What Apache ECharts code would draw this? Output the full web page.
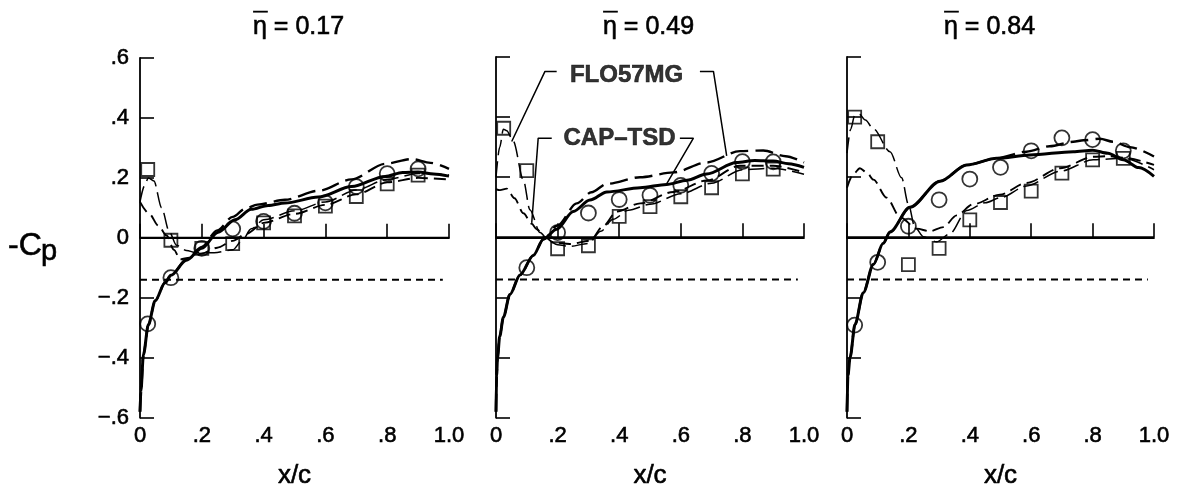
<!DOCTYPE html>
<html><head><meta charset="utf-8">
<script src="https://cdn.jsdelivr.net/npm/echarts@6/dist/echarts.min.js"></script>
<style>html,body{margin:0;padding:0;background:#fff}#c{width:1178px;height:494px}</style>
</head><body><div id="c"></div>
<script>
// ---------- data ----------
const stations = ['0.17', '0.49', '0.84'];
const xTickLabels = ['0', '.2', '.4', '.6', '.8', '1.0'];
const yTickLabels = ['\u2212.6', '\u2212.4', '\u2212.2', '0', '.2', '.4', '.6'];
const expX = [0.025, 0.1, 0.2, 0.3, 0.4, 0.5, 0.6, 0.7, 0.8, 0.9];

// experiment, upper surface (circles) and lower surface (squares)
const upperExp1 = [-0.287, -0.133, -0.035, 0.03, 0.055, 0.082, 0.117, 0.171, 0.214, 0.23];
const lowerExp1 = [0.228, -0.008, -0.035, -0.019, 0.05, 0.073, 0.106, 0.138, 0.18, 0.209];
const upperExp2 = [null, -0.101, 0.016, 0.081, 0.126, 0.14, 0.173, 0.213, 0.252, 0.251];
const lowerExp2 = [0.363, 0.222, -0.038, -0.028, 0.07, 0.102, 0.135, 0.165, 0.211, 0.227];
const upperExp3 = [-0.292, -0.083, 0.037, 0.125, 0.194, 0.233, 0.288, 0.331, 0.325, 0.288];
const lowerExp3 = [0.40, 0.318, -0.091, -0.037, 0.058, 0.116, 0.154, 0.214, 0.258, 0.263];

// computations [x/c, -Cp]
const capUpper1 = [[0,-0.58],[0.003,-0.51],[0.011,-0.39],[0.027,-0.29],[0.049,-0.21],[0.081,-0.15],[0.1,-0.125],[0.15,-0.075],[0.2,-0.035],[0.253,0.019],[0.307,0.06],[0.36,0.095],[0.415,0.108],[0.469,0.116],[0.577,0.136],[0.685,0.171],[0.793,0.205],[0.85,0.218],[0.9,0.22],[0.95,0.213],[1.0,0.206]];
const floUpper1 = [[0,-0.58],[0.003,-0.51],[0.011,-0.39],[0.027,-0.29],[0.049,-0.21],[0.081,-0.15],[0.1,-0.125],[0.15,-0.072],[0.2,-0.03],[0.25,0.025],[0.3,0.07],[0.34,0.097],[0.38,0.111],[0.469,0.127],[0.577,0.157],[0.685,0.195],[0.793,0.247],[0.879,0.263],[0.94,0.25],[1.0,0.23]];
const capLower1 = [[0,0.12],[0.03,0.08],[0.06,0.04],[0.086,0.008],[0.11,-0.04],[0.13,-0.072],[0.16,-0.066],[0.2,-0.052],[0.25,-0.033],[0.3,-0.01],[0.345,0.014],[0.4,0.05],[0.5,0.08],[0.6,0.11],[0.7,0.145],[0.8,0.185],[0.9,0.2],[1.0,0.195]];
const floLower1 = [[0,0.12],[0.015,0.175],[0.027,0.2],[0.045,0.19],[0.07,0.1],[0.095,0.02],[0.118,-0.025],[0.15,-0.042],[0.183,-0.05],[0.24,-0.05],[0.3,-0.04],[0.33,-0.01],[0.36,0.03],[0.4,0.06],[0.5,0.09],[0.6,0.12],[0.7,0.16],[0.8,0.195],[0.9,0.215],[1.0,0.21]];

const capUpper2 = [[0,-0.58],[0.002,-0.46],[0.005,-0.40],[0.012,-0.33],[0.024,-0.266],[0.045,-0.19],[0.078,-0.125],[0.121,-0.06],[0.154,-0.006],[0.197,0.027],[0.251,0.086],[0.305,0.124],[0.36,0.151],[0.468,0.165],[0.554,0.176],[0.62,0.19],[0.684,0.211],[0.781,0.249],[0.84,0.256],[0.9,0.254],[0.95,0.245],[1.0,0.233]];
const floUpper2 = [[0,-0.58],[0.002,-0.46],[0.005,-0.40],[0.012,-0.33],[0.024,-0.266],[0.045,-0.19],[0.078,-0.125],[0.121,-0.06],[0.154,-0.006],[0.2,0.04],[0.262,0.113],[0.31,0.15],[0.36,0.178],[0.468,0.2],[0.576,0.216],[0.684,0.249],[0.792,0.287],[0.868,0.289],[0.94,0.27],[1.0,0.249]];
const capLower2 = [[0,0.16],[0.013,0.157],[0.035,0.162],[0.06,0.13],[0.089,0.08],[0.116,0.045],[0.132,0.027],[0.16,0.0],[0.186,-0.017],[0.24,-0.022],[0.305,-0.011],[0.348,0.037],[0.392,0.086],[0.468,0.113],[0.576,0.151],[0.684,0.189],[0.792,0.238],[0.9,0.238],[1.0,0.216]];
const floLower2 = [[0,0.2],[0.012,0.3],[0.024,0.36],[0.035,0.355],[0.056,0.32],[0.089,0.19],[0.11,0.092],[0.143,0.016],[0.17,-0.01],[0.2,-0.025],[0.24,-0.03],[0.3,-0.02],[0.34,0.02],[0.38,0.06],[0.43,0.09],[0.5,0.11],[0.6,0.145],[0.7,0.18],[0.8,0.225],[0.9,0.23],[1.0,0.21]];

const capUpper3 = [[0,-0.58],[0.003,-0.46],[0.01,-0.40],[0.026,-0.29],[0.053,-0.184],[0.086,-0.09],[0.118,-0.02],[0.14,0.018],[0.205,0.1],[0.303,0.187],[0.39,0.241],[0.488,0.263],[0.596,0.274],[0.737,0.285],[0.8,0.29],[0.85,0.28],[0.9,0.258],[0.95,0.232],[1.0,0.203]];
const floUpper3 = [[0,-0.58],[0.003,-0.46],[0.01,-0.40],[0.026,-0.29],[0.053,-0.184],[0.086,-0.09],[0.118,-0.02],[0.14,0.018],[0.205,0.1],[0.303,0.187],[0.39,0.241],[0.488,0.263],[0.585,0.285],[0.66,0.303],[0.737,0.318],[0.77,0.323],[0.824,0.328],[0.867,0.318],[0.922,0.3],[1.0,0.269]];
const capLower3 = [[0,0.165],[0.02,0.21],[0.042,0.23],[0.065,0.215],[0.086,0.192],[0.129,0.132],[0.173,0.067],[0.227,0.029],[0.27,0.02],[0.314,0.034],[0.357,0.073],[0.411,0.11],[0.498,0.142],[0.585,0.181],[0.694,0.23],[0.802,0.268],[0.85,0.27],[0.9,0.265],[1.0,0.241]];
const floLower3 = [[0,0.28],[0.012,0.36],[0.025,0.405],[0.04,0.41],[0.06,0.39],[0.086,0.361],[0.14,0.285],[0.178,0.198],[0.2,0.11],[0.221,0.034],[0.249,0.002],[0.292,-0.015],[0.335,0.012],[0.39,0.089],[0.45,0.115],[0.5,0.132],[0.585,0.171],[0.694,0.22],[0.802,0.258],[0.9,0.263],[1.0,0.225]];

const cpStar = -0.14;      // sonic -Cp level (dashed line)
const cpStarEnd = 0.98;

// annotation (panel 2), data units
const annoLabels = [{ name: 'FLO57MG', at: [0.424, 0.538] }, { name: 'CAP\u2013TSD', at: [0.401, 0.33] }];
const leaderFloL = [[0.197,0.552],[0.159,0.552],[0.051,0.319]];
const leaderFloR = [[0.662,0.552],[0.706,0.552],[0.749,0.271]];
const leaderCapL = [[0.181,0.33],[0.137,0.33],[0.116,0.048]];
const leaderCapR = [[0.597,0.33],[0.641,0.33],[0.554,0.178]];

// ---------- chart ----------
const FONT = '"Liberation Sans", Arial, Helvetica, sans-serif';
const INK = { textBorderColor: '#000', textBorderWidth: 0.6 };
const panels = [
  { up: upperExp1, lo: lowerExp1, cu: capUpper1, fu: floUpper1, cl: capLower1, fl: floLower1 },
  { up: upperExp2, lo: lowerExp2, cu: capUpper2, fu: floUpper2, cl: capLower2, fl: floLower2 },
  { up: upperExp3, lo: lowerExp3, cu: capUpper3, fu: floUpper3, cl: capLower3, fl: floLower3 }
];
const grids = [
  { left: 140, top: 58, width: 309, height: 369 },
  { left: 496, top: 57, width: 308, height: 369 },
  { left: 847, top: 57, width: 307, height: 368 }
];
const titleLeft = [253, 603, 944];

const xAxes = grids.map((g, i) => ({
  type: 'value', gridIndex: i, min: 0, max: 1, interval: 0.2,
  axisLine: { show: true, lineStyle: { color: '#000', width: 1.8 } },
  axisTick: { show: true, inside: true, length: 14, lineStyle: { color: '#000', width: 1.6 } },
  splitLine: { show: false },
  axisLabel: Object.assign({ color: '#000', fontSize: 22, fontFamily: FONT, margin: 7,
    formatter: v => xTickLabels[Math.round(v / 0.2)] }, INK),
  name: 'x/c', nameLocation: 'middle', nameGap: 45,
  nameTextStyle: Object.assign({ color: '#000', fontSize: 26, fontFamily: FONT }, INK)
}));
const yAxes = grids.map((g, i) => ({
  type: 'value', gridIndex: i, min: -0.6, max: 0.6, interval: 0.2,
  axisLine: { show: true, onZero: false, lineStyle: { color: '#000', width: 1.8 } },
  axisTick: { show: true, inside: true, length: 14, lineStyle: { color: '#000', width: 1.6 } },
  splitLine: { show: false },
  axisLabel: Object.assign({ show: i === 0, color: '#000', fontSize: 22, fontFamily: FONT, margin: 11,
    formatter: v => yTickLabels[Math.round(v / 0.2) + 3] }, INK)
}));

function curve(i, data, lineStyle) {
  return { type: 'line', xAxisIndex: i, yAxisIndex: i, data, symbol: 'none', showSymbol: false,
    smooth: 0.3, smoothMonotone: 'x', silent: true, z: 3, lineStyle: Object.assign({ color: '#000' }, lineStyle) };
}
function marks(i, ys, symbol, size) {
  const d = [];
  expX.forEach((x, k) => { if (ys[k] !== null) d.push([x, ys[k]]); });
  return { type: 'scatter', xAxisIndex: i, yAxisIndex: i, data: d, symbol, symbolSize: size, silent: true, z: 5,
    itemStyle: { color: 'rgba(0,0,0,0)', borderColor: '#000', borderWidth: 1.8 } };
}

const series = [];
panels.forEach((p, i) => {
  series.push({ type: 'line', xAxisIndex: i, yAxisIndex: i, data: [[0, 0], [1, 0]], symbol: 'none', silent: true,
    lineStyle: { color: '#000', width: 2 } });
  series.push({ type: 'line', xAxisIndex: i, yAxisIndex: i, data: [[0, cpStar], [cpStarEnd, cpStar]], symbol: 'none', silent: true,
    lineStyle: { color: '#000', width: 2, type: [7, 5] } });
  series.push(curve(i, p.cu, { width: 3 }));
  series.push(curve(i, p.fu, { width: 2.4, type: [18, 7] }));
  series.push(curve(i, p.cl, { width: 1.9, type: [12, 6] }));
  series.push(curve(i, p.fl, { width: 1.5, type: [16, 6] }));
  series.push(marks(i, p.up, 'circle', 15));
  series.push(marks(i, p.lo, 'rect', 13));
});
[leaderFloL, leaderFloR, leaderCapL, leaderCapR].forEach(l => {
  series.push({ type: 'line', xAxisIndex: 1, yAxisIndex: 1, data: l, symbol: 'none', silent: true,
    lineStyle: { color: '#000', width: 1.5 } });
});
series.push({ type: 'scatter', xAxisIndex: 1, yAxisIndex: 1, symbolSize: 0, silent: true, z: 6,
  data: annoLabels.map(a => ({ name: a.name, value: a.at })),
  label: Object.assign({ show: true, position: 'inside', formatter: '{b}', color: '#000', fontSize: 24, fontWeight: 'bold', fontFamily: FONT }, INK) });

const graphic = [];
stations.forEach((s, i) => {
  graphic.push({ type: 'text', x: titleLeft[i], y: 27,
    style: { text: '\u03B7 = ' + s, fill: '#000', font: '25px ' + FONT, textAlign: 'left', textVerticalAlign: 'middle',
      stroke: '#000', lineWidth: 0.6 } });
  graphic.push({ type: 'text', x: titleLeft[i] + 7.5, y: 24,
    style: { text: '\u00AF', fill: '#000', font: 'bold 25px ' + FONT, textAlign: 'center', textVerticalAlign: 'middle',
      stroke: '#000', lineWidth: 0.6 } });
});
graphic.push({ type: 'text', x: 8, y: 246, style: { text: '-C', fill: '#000', font: '32px ' + FONT, textAlign: 'left', textVerticalAlign: 'middle', stroke: '#000', lineWidth: 0.6 } });
graphic.push({ type: 'text', x: 41, y: 252, style: { text: 'p', fill: '#000', font: '29px ' + FONT, textAlign: 'left', textVerticalAlign: 'middle', stroke: '#000', lineWidth: 0.6 } });

const chart = echarts.init(document.getElementById('c'), null, { renderer: 'canvas' });
chart.setOption({ backgroundColor: '#fff', animation: false, grid: grids, xAxis: xAxes, yAxis: yAxes, series, graphic });
</script></body></html>
